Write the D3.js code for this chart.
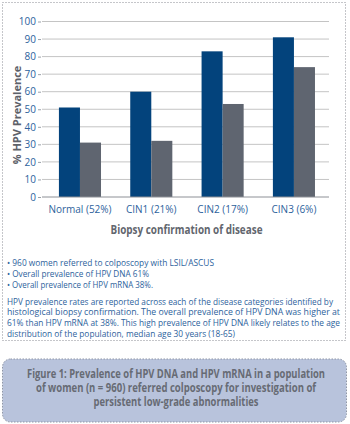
<!DOCTYPE html>
<html><head><meta charset="utf-8">
<script src="https://cdn.jsdelivr.net/npm/d3@7"></script>
<style>body{margin:0;background:#fff}svg{display:block}</style>
</head><body>
<script>
const categories = ["Normal (52%)", "CIN1 (21%)", "CIN2 (17%)", "CIN3 (6%)"];
const seriesNames = ["HPV DNA", "HPV mRNA"];
const dnaValues = [51, 60, 83, 91];
const mrnaValues = [31, 32, 53, 74];
const yTicks = [0,10,20,30,40,50,60,70,80,90,100];
const yTitle = "% HPV Prevalence";
const xTitle = "Biopsy confirmation of disease";
const bullets = ["• 960 women referred to colposcopy with LSIL/ASCUS","• Overall prevalence of HPV DNA 61%","• Overall prevalence of HPV mRNA 38%."];
const bulletW = [207, 142, 146];
const para = ["HPV prevalence rates are reported across each of the disease categories identified by",
"histological biopsy confirmation. The overall prevalence of HPV DNA was higher at",
"61% than HPV mRNA at 38%. This high prevalence of HPV DNA likely relates to the age",
"distribution of the population, median age 30 years (18-65)"];
const paraW = [326, 333, 333, 228];
const caption = ["Figure 1: Prevalence of HPV DNA and HPV mRNA in a population","of women (n = 960) referred colposcopy for investigation of","persistent low-grade abnormalities"];
const captionW = [298, 280, 165];

const W=350,H=424;
const svg=d3.select("body").append("svg").attr("width",W).attr("height",H);
const font="'Open Sans', sans-serif";
const blue="#2d629c";

// dotted outer box
svg.append("rect").attr("x",2.5).attr("y",2.5).attr("width",343).attr("height",338)
  .attr("fill","none").attr("stroke","#8a8d94").attr("stroke-width",1).attr("stroke-dasharray","1,2");

const x=d3.scaleBand().domain(categories).range([44.3,329.6]).paddingInner(0.41).paddingOuter(0.205);
const xs=d3.scaleBand().domain(seriesNames).range([0,x.bandwidth()]);
const y=d3.scaleLinear().domain([0,100]).range([197,21.5]);

// gridlines
svg.append("g").selectAll("line").data(yTicks.filter(d=>d>0)).join("line")
  .attr("x1",42).attr("x2",329).attr("y1",d=>y(d)).attr("y2",d=>y(d))
  .attr("stroke","#c4c4c4").attr("stroke-width",1);

// y axis labels
const ya=svg.append("g").attr("transform","translate(41,0)")
  .call(d3.axisLeft(y).tickValues(yTicks).tickSize(3).tickPadding(2));
ya.select(".domain").remove();
ya.selectAll(".tick line").attr("stroke","#9aa0a8");
ya.selectAll("text").attr("fill",blue).attr("font-family",font).attr("font-size",10);

// bars
const data=categories.map((c,i)=>({c,vals:[{s:seriesNames[0],v:dnaValues[i]},{s:seriesNames[1],v:mrnaValues[i]}]}));
const colors={"HPV DNA":"#03437c","HPV mRNA":"#5f6570"};
const g=svg.append("g").selectAll("g").data(data).join("g").attr("transform",d=>`translate(${x(d.c)},0)`);
g.selectAll("rect").data(d=>d.vals).join("rect")
  .attr("x",d=>xs(d.s)).attr("width",xs.bandwidth()).attr("y",d=>y(d.v)).attr("height",d=>y(0)-y(d.v))
  .attr("fill",d=>colors[d.s]);

// baseline
svg.append("line").attr("x1",42).attr("x2",329).attr("y1",y(0)).attr("y2",y(0)).attr("stroke","#8d9096").attr("stroke-width",1);

// x labels
svg.append("g").selectAll("text").data(categories).join("text")
  .attr("x",d=>x(d)+x.bandwidth()/2).attr("y",212.5).attr("text-anchor","middle")
  .attr("fill",blue).attr("font-family",font).attr("font-size",10).text(d=>d);

// y title
svg.append("text").attr("transform","translate(21,115) rotate(-90)").attr("text-anchor","middle")
  .attr("fill","#5d6169").attr("font-family",font).attr("font-weight","bold").attr("font-size",11).text(yTitle);

// x title
svg.append("text").attr("x",186.5).attr("y",234).attr("text-anchor","middle")
  .attr("fill","#62666e").attr("font-family",font).attr("font-weight","bold").attr("font-size",11.5)
  .attr("textLength",152).attr("lengthAdjust","spacingAndGlyphs").text(xTitle);

// bullets
svg.append("g").selectAll("text").data(bullets).join("text")
  .attr("x",7).attr("y",(d,i)=>266+i*11).attr("fill",blue).attr("font-family",font).attr("font-size",9.2)
  .attr("textLength",(d,i)=>bulletW[i]).attr("lengthAdjust","spacingAndGlyphs").text(d=>d);

// paragraph
svg.append("g").selectAll("text").data(para).join("text")
  .attr("x",7).attr("y",(d,i)=>304.5+i*10.8).attr("fill",blue).attr("font-family",font).attr("font-size",9.2)
  .attr("textLength",(d,i)=>paraW[i]).attr("lengthAdjust","spacingAndGlyphs").text(d=>d);

// caption box
svg.append("rect").attr("x",2.5).attr("y",359).attr("width",344).attr("height",63).attr("rx",8)
  .attr("fill","#b8c3dc").attr("stroke","#8f96a6").attr("stroke-width",1).attr("stroke-dasharray","1.5,1.5");
svg.append("g").selectAll("text").data(caption).join("text")
  .attr("x",176).attr("y",(d,i)=>377.5+i*14).attr("text-anchor","middle")
  .attr("fill","#676b74").attr("font-family",font).attr("font-weight","bold").attr("font-size",11.5)
  .attr("textLength",(d,i)=>captionW[i]).attr("lengthAdjust","spacingAndGlyphs").text(d=>d);
</script>
</body></html>
